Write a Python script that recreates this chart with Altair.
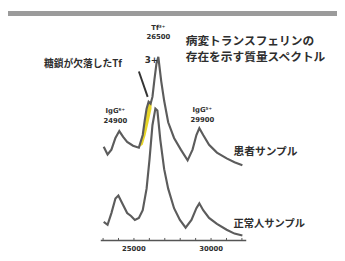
import altair as alt
import pandas as pd

# Patient sample trace (m/z, relative intensity incl. vertical offset)
patient_mz = [23040, 23290, 23540, 23800, 24050, 24300, 24560, 24940, 25320, 25570,
              25700, 25820, 25950, 26080, 26200, 26330, 26460, 26580, 26770, 26960,
              27220, 27600, 28040, 28480, 28800, 29050, 29240, 29490, 29870, 30380,
              31010, 31520, 32030]
patient_int = [114, 106, 111, 123, 130, 124, 119, 115, 113, 126,
               141, 153, 160, 158, 165, 183, 199, 206, 181, 161,
               139, 123, 111, 100, 111, 126, 133, 126, 116, 108,
               102, 98, 95]

# Normal sample trace
normal_mz = [23040, 23290, 23540, 23800, 23990, 24240, 24560, 24810, 25060, 25320,
             25570, 25820, 26010, 26200, 26390, 26520, 26710, 26960, 27220, 27600,
             27980, 28350, 28730, 29050, 29240, 29490, 29870, 30380, 31010, 31520,
             32030]
normal_int = [37, 34, 46, 61, 64, 56, 46, 43, 39, 41,
              49, 71, 101, 136, 153, 151, 121, 91, 71, 51,
              39, 31, 39, 51, 56, 49, 41, 35, 29, 25,
              23]

# Highlighted (sugar-deficient Tf) region
yellow_mz = [25380, 25570, 25760, 25950, 26140]
yellow_top = [114, 126, 147, 160, 161]
yellow_bottom = [114, 116, 126, 139, 153]

# Arrow from label to shoulder
arrow_mz = [25320, 25890]
arrow_int = [191, 165]

# Axis
axis_span = [22850, 32280]
axis_level = 18
tick_values = [23000, 24000, 25000, 26000, 27000, 28000, 29000, 30000, 31000, 32000]
label_values = [25000, 30000]
label_texts = ["25000", "30000"]

xs = alt.Scale(domain=[16835, 38165], nice=False, zero=False)
ys = alt.Scale(domain=[0, 253], nice=False, zero=False)

LINE = "#5c5c5c"
TXT = "#2e2e2e"
JP = "Noto Sans CJK JP"

patient = pd.DataFrame({"mz": patient_mz, "v": patient_int, "i": range(len(patient_mz))})
normal = pd.DataFrame({"mz": normal_mz, "v": normal_int, "i": range(len(normal_mz))})
yellow = pd.DataFrame({"mz": yellow_mz, "top": yellow_top, "bot": yellow_bottom})
arrow = pd.DataFrame({"mz": arrow_mz, "v": arrow_int})
axis_df = pd.DataFrame({"a": [axis_span[0]], "b": [axis_span[1]], "y": [axis_level]})
ticks = pd.DataFrame({"mz": tick_values, "y": [axis_level] * len(tick_values),
                      "y2": [axis_level + 2.5] * len(tick_values)})
labels = pd.DataFrame({"mz": label_values, "t": label_texts})

gray_bar = alt.Chart(pd.DataFrame({"d": [0]})).mark_rect(color="#9b9b9b").encode(
    x=alt.value(0), x2=alt.value(337), y=alt.value(0), y2=alt.value(5))

area = alt.Chart(yellow).mark_area(color="#e6d31c", opacity=0.95).encode(
    x=alt.X("mz:Q", scale=xs, axis=None),
    y=alt.Y("top:Q", scale=ys, axis=None),
    y2="bot:Q")

def trace(df):
    return alt.Chart(df).mark_line(color=LINE, strokeWidth=2.2).encode(
        x=alt.X("mz:Q", scale=xs, axis=None),
        y=alt.Y("v:Q", scale=ys, axis=None),
        order="i:Q")

arrow_line = alt.Chart(arrow).mark_line(color="#333333", strokeWidth=2).encode(
    x=alt.X("mz:Q", scale=xs, axis=None), y=alt.Y("v:Q", scale=ys, axis=None))

axis_rule = alt.Chart(axis_df).mark_rule(color="#555555", strokeWidth=1.5).encode(
    x=alt.X("a:Q", scale=xs, axis=None), x2="b:Q", y=alt.Y("y:Q", scale=ys, axis=None))

tick_rules = alt.Chart(ticks).mark_rule(color="#555555", strokeWidth=1).encode(
    x=alt.X("mz:Q", scale=xs, axis=None), y=alt.Y("y:Q", scale=ys, axis=None), y2="y2:Q")

tick_text = alt.Chart(labels).mark_text(fontSize=7, fontWeight="bold", color=TXT,
                                        font="DejaVu Sans").encode(
    x=alt.X("mz:Q", scale=xs, axis=None), y=alt.value(244), text="t:N")


def txt(s, x, y, size, align="left", font=JP):
    return alt.Chart(pd.DataFrame({"t": [s]})).mark_text(
        fontSize=size, fontWeight="bold", color=TXT, align=align, baseline="middle",
        font=font).encode(text="t:N", x=alt.value(x), y=alt.value(y))

annotations = [
    txt("病変トランスフェリンの", 182, 31, 12),
    txt("存在を示す質量スペクトル", 182, 47, 12),
    txt("糖鎖が欠落したTf", 37, 54, 10),
    txt("3+", 140, 50, 9, font="DejaVu Sans"),
    txt("Tf³⁺", 154, 17, 7, "center", "DejaVu Sans"),
    txt("26500", 154, 27, 7, "center", "DejaVu Sans"),
    txt("IgG⁶⁺", 110, 102, 7, "center", "DejaVu Sans"),
    txt("24900", 110, 113, 7, "center", "DejaVu Sans"),
    txt("IgG⁵⁺", 199, 101, 7, "center", "DejaVu Sans"),
    txt("29900", 199, 112, 7, "center", "DejaVu Sans"),
    txt("患者サンプル", 231, 145, 11),
    txt("正常人サンプル", 231, 218, 10.5),
]

chart = alt.layer(
    gray_bar, area, trace(normal), trace(patient), arrow_line,
    axis_rule, tick_rules, tick_text, *annotations
).properties(
    width=337, height=253, padding=0, autosize=alt.AutoSizeParams(type="none"),
    background="white"
).configure_view(stroke=None)

chart.save("out.html", embed_options={"renderer": "svg", "actions": False})
